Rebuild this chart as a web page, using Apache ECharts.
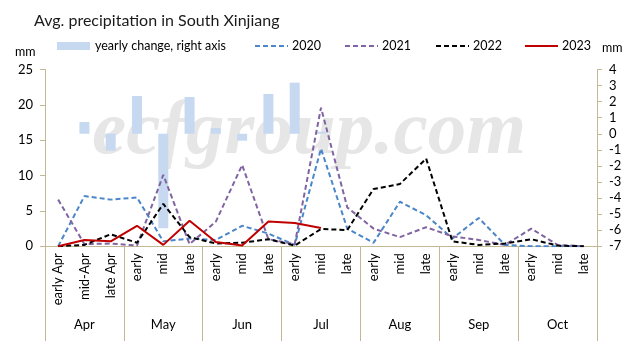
<!DOCTYPE html>
<html>
<head>
<meta charset="utf-8">
<script src="https://cdn.jsdelivr.net/npm/echarts@6/dist/echarts.min.js"></script>
<style>
  html, body { margin: 0; padding: 0; background: #fff; }
  #chart { width: 643px; height: 341px; }
</style>
</head>
<body>
<div id="chart"></div>
<script>
// Ten-day periods, April to October
const periods = [
  'early Apr', 'mid-Apr', 'late Apr',
  'early', 'mid', 'late',
  'early', 'mid', 'late',
  'early', 'mid', 'late',
  'early', 'mid', 'late',
  'early', 'mid', 'late',
  'early', 'mid', 'late'
];
const months = ['Apr', 'May', 'Jun', 'Jul', 'Aug', 'Sep', 'Oct'];

// Average precipitation per period, mm
const y2020 = [0, 7.1, 6.6, 6.9, 0.7, 1.1, 0.9, 2.9, 1.8, 0.2, 13.8, 2.5, 0.5, 6.3, 4.4, 1.1, 4.0, 0.2, 0, 0, 0];
const y2021 = [6.6, 0.3, 0.4, 0.1, 10.1, 0.3, 3.5, 11.5, 1.0, 0.3, 19.6, 5.5, 2.5, 1.3, 2.7, 1.4, 0.9, 0.2, 2.5, 0.2, 0];
const y2022 = [0, 0.2, 1.7, 0.5, 6.0, 1.3, 0.4, 0.5, 1.0, 0.1, 2.45, 2.3, 8.1, 8.8, 12.4, 0.7, 0.2, 0.4, 1.0, 0.1, 0];
const y2023 = [0, 0.9, 0.7, 2.9, 0.2, 3.6, 0.6, 0.1, 3.5, 3.3, 2.6, null, null, null, null, null, null, null, null, null, null];

// Change against the previous year, mm (right axis)
const yearlyChange = [0, 0.73, -1.05, 2.35, -5.87, 2.29, 0.36, -0.43, 2.48, 3.18, 0.13, null, null, null, null, null, null, null, null, null, null];

// Axis ranges
const leftAxis = { min: 0, max: 25, interval: 5 };
const rightAxis = { min: -7, max: 4, interval: 1 };

const FONT = 'Lato';
const AXIS_COLOR = '#C4B894';
const COLORS = { change: '#C6D9F1', y2020: '#4A86C8', y2021: '#8064A2', y2022: '#000000', y2023: '#C00000' };
const DASH = [5, 3];

const chart = echarts.init(document.getElementById('chart'), null, { renderer: 'canvas' });

function dashedLine(name, data, color) {
  return {
    name: name,
    type: 'line',
    data: data,
    xAxisIndex: 0,
    yAxisIndex: 0,
    symbol: 'none',
    z: 3,
    lineStyle: { color: color, width: 2, type: DASH },
    itemStyle: { color: color }
  };
}

// Legend row drawn as plain shapes and text
function legendLine(x, label, color, dashed) {
  return [
    {
      type: 'line',
      shape: { x1: x, y1: 46, x2: x + 33, y2: 46 },
      style: { stroke: color, lineWidth: 2, lineDash: dashed ? DASH : null }
    },
    {
      type: 'text',
      x: x + 37, y: 46,
      style: { text: label, font: '12.5px ' + FONT, fill: '#000', verticalAlign: 'middle' }
    }
  ];
}

const legendItems = [
  {
    type: 'rect',
    shape: { x: 57, y: 42, width: 33, height: 8 },
    style: { fill: COLORS.change }
  },
  {
    type: 'text',
    x: 95, y: 46,
    style: { text: 'yearly change, right axis', font: '12.5px ' + FONT, fill: '#000', verticalAlign: 'middle' }
  }
].concat(
  legendLine(255, '2020', COLORS.y2020, true),
  legendLine(345, '2021', COLORS.y2021, true),
  legendLine(436, '2022', COLORS.y2022, true),
  legendLine(525, '2023', COLORS.y2023, false)
);

chart.setOption({
  animation: false,
  textStyle: { fontFamily: FONT },
  title: {
    text: 'Avg. precipitation in South Xinjiang',
    left: 29,
    top: 8,
    textStyle: { fontFamily: FONT, fontSize: 16, fontWeight: 'normal', color: '#1a1a1a' }
  },
  graphic: [
    {
      type: 'text',
      x: 92,
      y: 133,
      z: 0,
      silent: true,
      style: {
        text: 'ecfgroup.com',
        font: 'italic bold 77px "Liberation Serif"',
        fill: '#E6E6E6',
        verticalAlign: 'middle'
      }
    },
    {
      type: 'text', x: 15, y: 52,
      style: { text: 'mm', font: '12.5px ' + FONT, fill: '#000', verticalAlign: 'middle' }
    },
    {
      type: 'text', x: 602, y: 48,
      style: { text: 'mm', font: '12.5px ' + FONT, fill: '#000', verticalAlign: 'middle' }
    }
  ].concat(legendItems),
  grid: { left: 45, right: 46, top: 69.5, bottom: 94.7, containLabel: false },
  xAxis: [
    {
      type: 'category',
      data: periods,
      position: 'bottom',
      boundaryGap: true,
      axisLine: { show: true, onZero: false, lineStyle: { color: AXIS_COLOR, width: 1 } },
      axisTick: { show: false },
      axisLabel: {
        rotate: 90,
        interval: 0,
        margin: 7,
        fontFamily: FONT,
        fontSize: 13,
        color: '#000'
      },
      splitLine: { show: false }
    },
    {
      type: 'category',
      data: months,
      position: 'bottom',
      boundaryGap: true,
      axisLine: { show: false, onZero: false },
      axisTick: { show: true, inside: false, length: 95, lineStyle: { color: AXIS_COLOR, width: 1 } },
      axisLabel: { interval: 0, margin: 72, fontFamily: FONT, fontSize: 13, color: '#000' },
      splitLine: { show: false }
    }
  ],
  yAxis: [
    {
      type: 'value',
      min: leftAxis.min, max: leftAxis.max, interval: leftAxis.interval,
      position: 'left',
      axisLine: { show: true, onZero: false, lineStyle: { color: AXIS_COLOR } },
      axisTick: { show: true, length: 5, lineStyle: { color: AXIS_COLOR } },
      axisLabel: { margin: 12, fontFamily: FONT, fontSize: 13, color: '#000' },
      splitLine: { show: false }
    },
    {
      type: 'value',
      min: rightAxis.min, max: rightAxis.max, interval: rightAxis.interval,
      position: 'right',
      axisLine: { show: true, onZero: false, lineStyle: { color: AXIS_COLOR } },
      axisTick: { show: true, length: 5, lineStyle: { color: AXIS_COLOR } },
      axisLabel: { margin: 12, fontFamily: FONT, fontSize: 13, color: '#000' },
      splitLine: { show: false }
    }
  ],
  series: [
    {
      name: 'yearly change, right axis',
      type: 'bar',
      data: yearlyChange,
      xAxisIndex: 0,
      yAxisIndex: 1,
      barWidth: 10,
      z: 2,
      itemStyle: { color: COLORS.change }
    },
    dashedLine('2020', y2020, COLORS.y2020),
    dashedLine('2021', y2021, COLORS.y2021),
    dashedLine('2022', y2022, COLORS.y2022),
    {
      name: '2023',
      type: 'line',
      data: y2023,
      xAxisIndex: 0,
      yAxisIndex: 0,
      symbol: 'none',
      z: 4,
      lineStyle: { color: COLORS.y2023, width: 2, type: 'solid' },
      itemStyle: { color: COLORS.y2023 }
    }
  ]
});
</script>
</body>
</html>
